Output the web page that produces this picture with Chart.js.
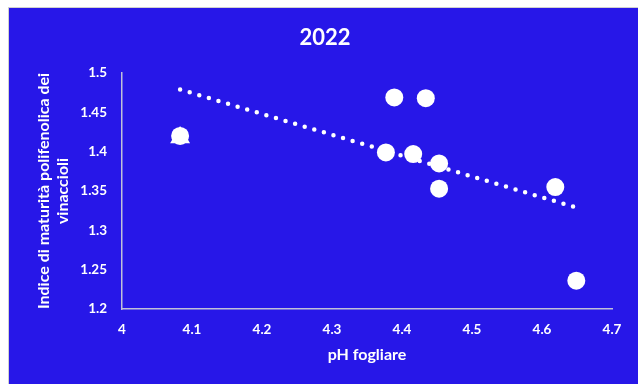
<!DOCTYPE html>
<html>
<head>
<meta charset="utf-8">
<script src="https://cdn.jsdelivr.net/npm/chart.js@4"></script>
<style>
  html, body { margin: 0; padding: 0; background: #ffffff; }
  #wrap { width: 638px; height: 384px; position: relative; }
</style>
</head>
<body>
<div id="wrap"><canvas id="c" width="638" height="384"></canvas></div>
<script>
// ---- data ----
const chartTitle = "2022";
const xAxisTitle = "pH fogliare";
const yAxisTitle = ["Indice di maturità polifenolica dei", "vinaccioli"];

const circleX = [4.083, 4.389, 4.434, 4.377, 4.416, 4.453, 4.453, 4.619, 4.649];
const circleY = [1.420, 1.469, 1.468, 1.399, 1.397, 1.385, 1.353, 1.355, 1.236];

const triangleX = [4.083];
const triangleY = [1.418];

const trendX = [4.083, 4.649];
const trendY = [1.479, 1.329];

const xTicks = [4, 4.1, 4.2, 4.3, 4.4, 4.5, 4.6, 4.7];
const yTicks = [1.2, 1.25, 1.3, 1.35, 1.4, 1.45, 1.5];

// ---- styles ----
const BLUE = '#2717E8';
const WHITE = '#ffffff';
const AXIS = '#c0c0d8';
const FONT = 'Lato, "Open Sans", sans-serif';

const toPts = (xs, ys) => xs.map((x, i) => ({ x: x, y: ys[i] }));

const bgPlugin = {
  id: 'bg',
  beforeDraw(chart) {
    const ctx = chart.ctx;
    ctx.save();
    ctx.fillStyle = '#ffffff';
    ctx.fillRect(0, 0, chart.width, chart.height);
    ctx.fillStyle = '#d0d0d0';
    ctx.fillRect(8, 7, chart.width - 8, chart.height - 7);
    ctx.fillStyle = BLUE;
    ctx.fillRect(9, 8, chart.width - 9, chart.height - 8);
    ctx.restore();
  }
};

const fmt = v => String(Number(v.toFixed(2)));

new Chart(document.getElementById('c'), {
  type: 'scatter',
  data: {
    datasets: [
      {
        label: 'trend',
        type: 'line',
        data: toPts(trendX, trendY),
        borderColor: WHITE,
        borderWidth: 4.5,
        borderDash: [0, 10],
        borderCapStyle: 'round',
        pointRadius: 0,
        fill: false,
        order: 3
      },
      {
        label: 'triangle',
        data: toPts(triangleX, triangleY),
        pointStyle: 'triangle',
        pointRadius: 11.5,
        backgroundColor: WHITE,
        borderColor: WHITE,
        borderWidth: 0,
        order: 2
      },
      {
        label: 'circle',
        data: toPts(circleX, circleY),
        pointStyle: 'circle',
        pointRadius: 9,
        backgroundColor: WHITE,
        borderColor: WHITE,
        borderWidth: 0,
        order: 1
      }
    ]
  },
  options: {
    responsive: false,
    animation: false,
    devicePixelRatio: 1,
    layout: { padding: { left: 38, right: 26, top: 0, bottom: 0 } },
    plugins: {
      legend: { display: false },
      tooltip: { enabled: false },
      title: {
        display: true,
        text: chartTitle,
        color: WHITE,
        font: { family: FONT, size: 22, weight: 'bold', lineHeight: 1.2 },
        padding: { top: 25, bottom: 21.6 }
      }
    },
    scales: {
      x: {
        type: 'linear',
        min: 4, max: 4.7,
        afterBuildTicks(scale) { scale.ticks = xTicks.map(v => ({ value: v })); },
        afterFit(scale) { scale.height = 75; },
        grid: { display: false, drawTicks: false },
        border: { display: true, color: AXIS, width: 1.5 },
        ticks: {
          color: WHITE,
          padding: 13,
          font: { family: FONT, size: 13.5, weight: 'bold' },
          callback: v => fmt(v)
        },
        title: {
          display: true,
          text: xAxisTitle,
          color: WHITE,
          font: { family: FONT, size: 16, weight: 'bold', lineHeight: 1.2 },
          padding: { top: 0, bottom: 19.5 }
        }
      },
      y: {
        type: 'linear',
        min: 1.2, max: 1.5,
        afterBuildTicks(scale) { scale.ticks = yTicks.map(v => ({ value: v })); },
        afterFit(scale) { scale.width = 84; },
        grid: { display: false, drawTicks: false },
        border: { display: true, color: AXIS, width: 1.5 },
        ticks: {
          color: WHITE,
          padding: 15,
          font: { family: FONT, size: 13.5, weight: 'bold' },
          callback: v => fmt(v)
        },
        title: {
          display: true,
          text: yAxisTitle,
          color: WHITE,
          font: { family: FONT, size: 16, weight: 'bold', lineHeight: 1.15 },
          padding: { top: -3.2, bottom: 0 }
        }
      }
    }
  },
  plugins: [bgPlugin]
});
</script>
</body>
</html>
